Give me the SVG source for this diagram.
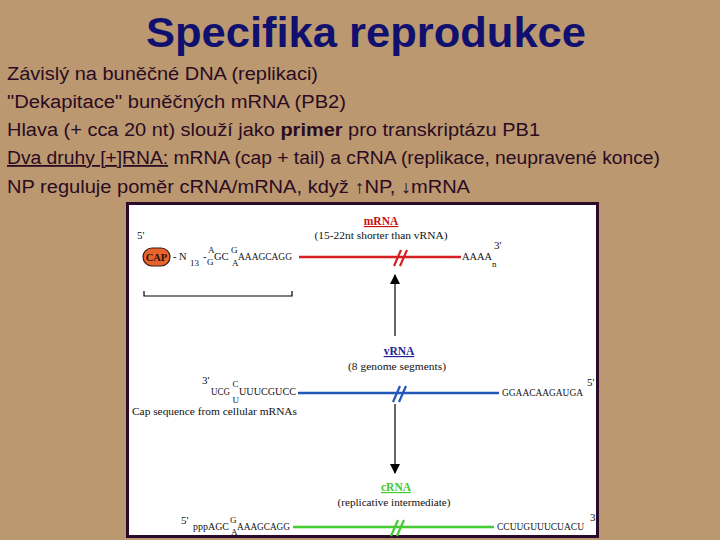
<svg xmlns="http://www.w3.org/2000/svg" width="720" height="540" viewBox="0 0 720 540">
<style>
.bul{font-family:"Liberation Sans",Arial,sans-serif;font-size:18px;fill:#2A0B22}
.ser{font-family:"Liberation Serif","Times New Roman",serif;font-size:11px;fill:#111}
.seq{font-family:"Liberation Serif","Times New Roman",serif;font-size:10.5px;fill:#111}
.sm{font-family:"Liberation Serif","Times New Roman",serif;font-size:9px;fill:#111}
.hd{font-family:"Liberation Serif","Times New Roman",serif;font-size:11.5px;font-weight:bold;text-decoration:underline}
.slash{stroke-width:2.2;fill:none}
</style>
<defs>
<marker id="ah" viewBox="0 0 10 10" refX="9" refY="5" markerWidth="10" markerHeight="10" markerUnits="userSpaceOnUse" orient="auto">
<path d="M0,0 L10,5 L0,10 Z" fill="#000"/>
</marker>
</defs>
<rect x="0" y="0" width="720" height="540" fill="#BB9870"/>
<text x="366" y="47" text-anchor="middle" font-family="'Liberation Sans',Arial,sans-serif" font-size="43" font-weight="bold" fill="#10106E" textLength="440" lengthAdjust="spacingAndGlyphs">Specifika reprodukce</text>
<g id="bullets">
<text class="bul" x="7" y="80" textLength="311" lengthAdjust="spacingAndGlyphs">Závislý na buněčné DNA (replikaci)</text>
<text class="bul" x="7" y="108" textLength="339" lengthAdjust="spacingAndGlyphs">"Dekapitace" buněčných mRNA (PB2)</text>
<text class="bul" x="7" y="136" textLength="533" lengthAdjust="spacingAndGlyphs">Hlava (+ cca 20 nt) slouží jako <tspan font-weight="bold">primer</tspan> pro transkriptázu PB1</text>
<text class="bul" x="7" y="164" textLength="653" lengthAdjust="spacingAndGlyphs"><tspan text-decoration="underline">Dva druhy [+]RNA:</tspan> mRNA (cap + tail) a cRNA (replikace, neupravené konce)</text>
<text class="bul" x="7" y="193" textLength="463" lengthAdjust="spacingAndGlyphs">NP reguluje poměr cRNA/mRNA, když ↑NP, ↓mRNA</text>
</g>
<rect x="127.5" y="203.5" width="470" height="333" fill="#fff" stroke="#2B0A2A" stroke-width="3"/>
<g id="connectors">
<line x1="299" y1="257" x2="461" y2="257" stroke="#D42020" stroke-width="2.5"/>
<path d="M394,266 L401,250 M400,266 L407,250" stroke="#D42020" class="slash"/>
<line x1="298" y1="393" x2="499" y2="393" stroke="#2458B8" stroke-width="2.5"/>
<path d="M393,402 L400,386 M399,402 L406,386" stroke="#2458B8" class="slash"/>
<line x1="293" y1="527" x2="494" y2="527" stroke="#44CC33" stroke-width="2.5"/>
<path d="M391,536 L398,520 M397,536 L404,520" stroke="#44CC33" class="slash"/>
<line x1="395" y1="336" x2="395" y2="275" stroke="#000" stroke-width="1.2" marker-end="url(#ah)"/>
<line x1="395" y1="404" x2="395" y2="473" stroke="#000" stroke-width="1.2" marker-end="url(#ah)"/>
<path d="M144,291 L144,296 L292,296 L292,291" stroke="#000" stroke-width="1.2" fill="none"/>
</g>
<g id="mRNA">
<text class="hd" x="381" y="225" text-anchor="middle" fill="#C81010">mRNA</text>
<text class="ser" x="381" y="239" text-anchor="middle" textLength="133" lengthAdjust="spacingAndGlyphs">(15-22nt shorter than vRNA)</text>
<text class="ser" x="137" y="239">5'</text>
<rect x="143" y="248" width="27" height="18" rx="9" fill="#E8642A" stroke="#3A1A10" stroke-width="1.2"/>
<text x="156.5" y="261" text-anchor="middle" font-family="'Liberation Serif',serif" font-size="10.5" font-weight="bold" fill="#2A1010">CAP</text>
<text class="seq" x="173" y="260">- N</text>
<text class="sm" x="190" y="266">13</text>
<text class="seq" x="203" y="260">-</text>
<text class="sm" x="208" y="253">A</text>
<text class="sm" x="207" y="265">G</text>
<text class="seq" x="214" y="260">GC</text>
<text class="sm" x="231" y="253">G</text>
<text class="sm" x="232" y="266">A</text>
<text class="seq" x="238" y="260" textLength="54" lengthAdjust="spacingAndGlyphs">AAAGCAGG</text>
<text class="seq" x="462" y="260" textLength="30" lengthAdjust="spacingAndGlyphs">AAAA</text>
<text class="sm" x="492" y="267">n</text>
<text class="ser" x="494" y="249">3'</text>
</g>
<g id="vRNA">
<text class="hd" x="399" y="355" text-anchor="middle" fill="#1E1E96">vRNA</text>
<text class="ser" x="397" y="370" text-anchor="middle" textLength="98" lengthAdjust="spacingAndGlyphs">(8 genome segments)</text>
<text class="ser" x="202" y="384">3'</text>
<text class="seq" x="211" y="395" textLength="19" lengthAdjust="spacingAndGlyphs">UCG</text>
<text class="sm" x="232.5" y="387" font-size="8">C</text>
<text class="sm" x="232.5" y="403" font-size="8">U</text>
<text class="seq" x="239" y="395" textLength="57" lengthAdjust="spacingAndGlyphs">UUUCGUCC</text>
<text class="seq" x="502" y="396" textLength="81" lengthAdjust="spacingAndGlyphs">GGAACAAGAUGA</text>
<text class="ser" x="587" y="386">5'</text>
<text class="ser" x="132" y="415" textLength="165" lengthAdjust="spacingAndGlyphs">Cap sequence from cellular mRNAs</text>
</g>
<g id="cRNA">
<text class="hd" x="396" y="491" text-anchor="middle" fill="#44C830">cRNA</text>
<text class="ser" x="394" y="506" text-anchor="middle" textLength="113" lengthAdjust="spacingAndGlyphs">(replicative intermediate)</text>
<text class="ser" x="181" y="524">5'</text>
<text class="seq" x="193" y="530" textLength="36" lengthAdjust="spacingAndGlyphs">pppAGC</text>
<text class="sm" x="230" y="523">G</text>
<text class="sm" x="231" y="535">A</text>
<text class="seq" x="237" y="530" textLength="53" lengthAdjust="spacingAndGlyphs">AAAGCAGG</text>
<text class="seq" x="497" y="530" textLength="87" lengthAdjust="spacingAndGlyphs">CCUUGUUUCUACU</text>
<text class="ser" x="590" y="521">3</text>
</g>
</svg>
